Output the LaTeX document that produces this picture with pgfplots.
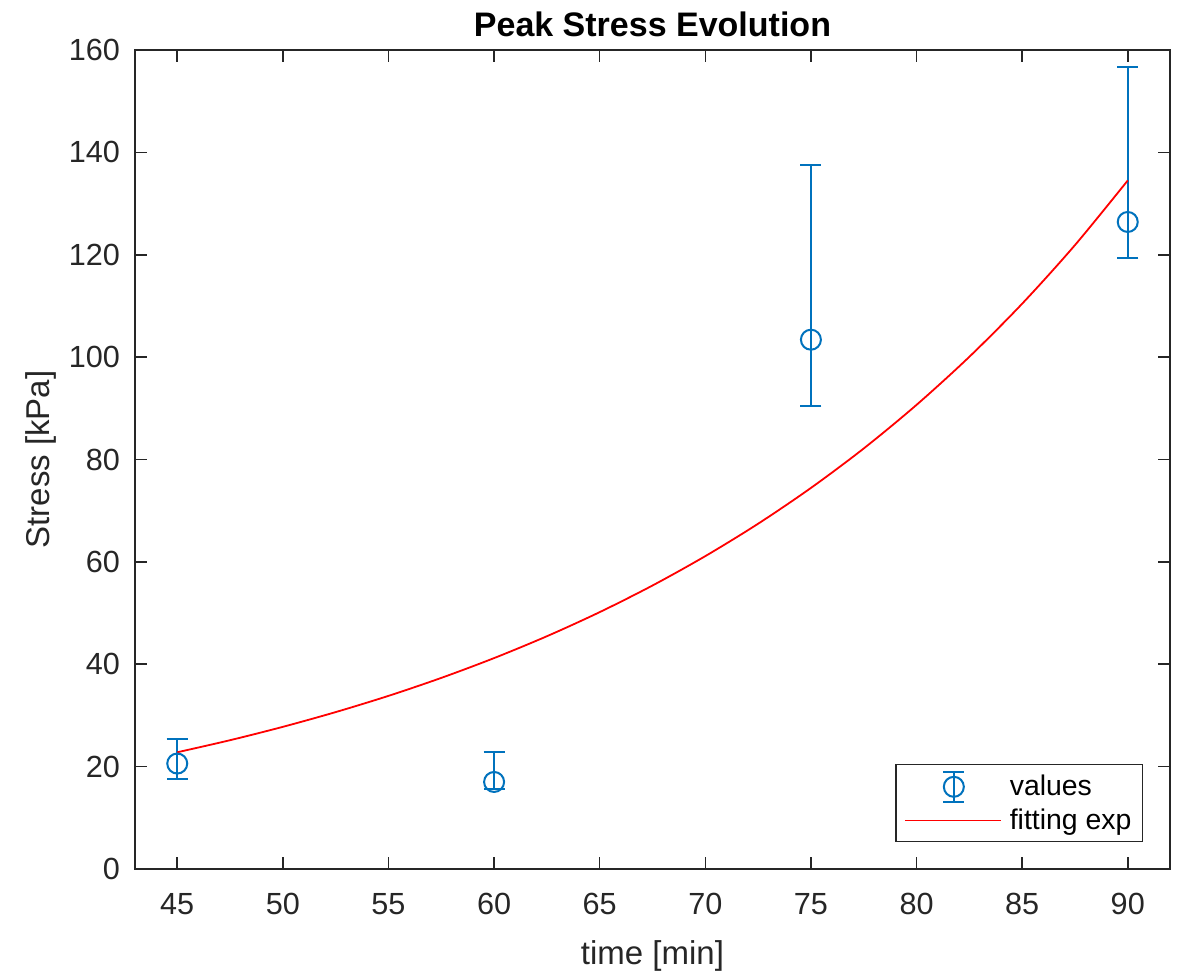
\documentclass[border=0pt]{standalone}
\usepackage{fontspec}
\setmainfont{Liberation Sans}
\usepackage{pgfplots}
\usepackage{pgfplotstable}
\pgfplotsset{compat=1.18}
\definecolor{mblue}{RGB}{0,114,189}
\definecolor{mgrey}{RGB}{38,38,38}
\pgfplotstableread{
x y ep em
45 20.6 4.8 3.0
60 17.0 5.9 1.3
75 103.4 34.1 13.0
90 126.4 30.2 7.0
}\errdata
\pgfplotstableread{
x y
45 22.80
47.5 25.16
50 27.77
52.5 30.65
55 33.82
57.5 37.33
60 41.20
62.5 45.47
65 50.18
67.5 55.38
70 61.12
72.5 67.45
75 74.44
77.5 82.15
80 90.67
82.5 100.06
85 110.43
87.5 121.88
90 134.51
}\fitdata
\begin{document}
\begin{tikzpicture}
\begin{axis}[
  name=ax,
  scale only axis,
  width=517.5pt, height=409.5pt,
  xmin=43, xmax=92, ymin=0, ymax=160,
  xtick={45,50,...,90}, ytick={0,20,...,160},
  xtick pos=both, ytick pos=both,
  tick align=inside, major tick length=6pt,
  axis line style={mgrey, line width=0.8pt},
  major tick style={mgrey, line width=0.8pt},
  tick label style={font=\fontsize{15.3}{18}\selectfont, text=mgrey},
  /pgf/number format/assume math mode=true,
  xticklabel style={yshift=-8.5pt},
  yticklabel style={xshift=-4pt},
  xlabel={time [min]}, ylabel={Stress [kPa]},
  label style={font=\fontsize{16.5}{20}\selectfont, text=mgrey},
  xlabel style={at={(axis description cs:0.5,-0.106)}, anchor=center},
  ylabel style={at={(axis description cs:-0.091,0.5)}, anchor=center},
  title={Peak Stress Evolution},
  title style={at={(axis description cs:0.5,1.0012)}, anchor=base, font=\bfseries\fontsize{17}{20}\selectfont, text=black},
  legend style={at={(1,0)}, anchor=south east, xshift=-13.5pt, yshift=13.5pt,
    draw=mgrey, line width=0.6pt, font=\fontsize{14.2}{16}\selectfont, text=black,
    inner xsep=4pt, inner ysep=3pt, row sep=1.5pt,
    nodes={inner sep=1.5pt}},
  legend cell align=left,
]
\addplot[mblue, only marks, mark=o, mark size=5pt, line width=1pt,
  mark options={solid, line width=1pt},
  legend image code/.code={
    \draw[mblue, line width=1pt] (24.5pt,-7.5pt) -- (24.5pt,7.5pt)
      (19.25pt,-7.5pt) -- (29.75pt,-7.5pt) (19.25pt,7.5pt) -- (29.75pt,7.5pt);
    \draw[mblue, line width=1pt] (24.5pt,0pt) circle (5pt);
    \path[draw=none, fill=none] (0pt,0pt) rectangle (51pt,0.1pt);
  },
  error bars/.cd, y dir=both, y explicit,
  error bar style={mblue, line width=1pt},
  error mark options={rotate=90, mark size=5.25pt, mblue, line width=1pt},
  ] table[x=x, y=y, y error plus=ep, y error minus=em] {\errdata};
\addlegendentry{values}
\addplot[red, line width=0.9pt, smooth, no marks,
  legend image code/.code={\draw[red, line width=0.9pt] (0pt,0pt) -- (48pt,0pt);
    \path[draw=none, fill=none] (0pt,0pt) rectangle (51pt,0.1pt);}
  ] table[x=x, y=y] {\fitdata};
\addlegendentry{fitting exp}
\end{axis}
\pgfresetboundingbox
\path ([xshift=-67.5pt, yshift=-51.5pt]ax.south west) rectangle ([xshift=4.5pt, yshift=25pt]ax.north east);
\end{tikzpicture}
\end{document}
